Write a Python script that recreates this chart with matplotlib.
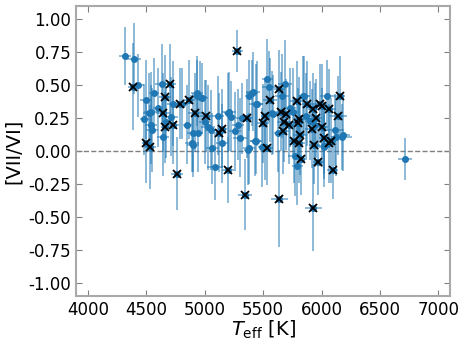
import matplotlib
matplotlib.use("Agg")
import matplotlib.pyplot as plt
import numpy as np

# stars without flag (blue points only)
teff = [4320, 4397, 4431, 4483, 4500, 4543, 4543, 4568, 4551, 4637,
        4646, 4671, 4714, 4731, 4808, 4851, 4894, 4903, 4937, 4937,
        4980, 4946, 5031, 5057, 5091, 5117, 5151, 5211, 5228, 5262,
        5288, 5305, 5382, 5408, 5382, 5442, 5442, 5537, 5554, 5520,
        5580, 5691, 5631, 5734, 5777, 5794, 5854, 5871, 5905, 6043,
        6025, 6119, 6128, 6171, 6711, 4903, 5374, 6017, 4526, 4963,
        5065, 5202, 5322, 5417, 5451, 5434, 5494, 5588, 5665, 5845,
        6180, 5760, 5940, 4600, 5000]
teff_err = [50, 60, 50, 40, 50, 60, 50, 40, 50, 60,
            50, 40, 60, 50, 50, 40, 60, 50, 50, 60,
            50, 40, 60, 50, 70, 50, 50, 60, 40, 50,
            50, 60, 50, 50, 40, 60, 50, 50, 60, 50,
            50, 60, 40, 50, 60, 50, 50, 60, 50, 60,
            50, 70, 50, 90, 60, 50, 40, 50, 50, 60,
            50, 40, 50, 60, 50, 50, 40, 50, 60, 50,
            60, 50, 50, 40, 50]
ratio = [0.72, 0.70, 0.50, 0.24, 0.39, 0.30, 0.20, 0.44, 0.16, 0.51,
         0.11, 0.22, 0.26, 0.36, 0.36, 0.20, 0.06, 0.14, 0.44, 0.42,
         0.40, 0.14, 0.18, 0.16, -0.12, 0.27, 0.06, 0.30, 0.26, 0.15,
         0.20, 0.10, 0.02, 0.44, 0.42, 0.36, 0.08, 0.55, 0.49, 0.03,
         0.29, 0.51, 0.14, 0.33, -0.04, -0.11, 0.42, 0.27, 0.23, 0.42,
         0.03, 0.16, 0.11, 0.11, -0.06, 0.05, 0.01, 0.04, 0.29, 0.41,
         0.02, 0.29, 0.25, 0.45, 0.36, 0.08, 0.03, 0.28, 0.42, 0.42,
         0.12, 0.30, 0.20, 0.33, 0.22]
ratio_err = [0.22, 0.27, 0.24, 0.27, 0.30, 0.30, 0.30, 0.27, 0.32, 0.30,
             0.30, 0.27, 0.30, 0.32, 0.27, 0.30, 0.22, 0.30, 0.25, 0.30,
             0.27, 0.30, 0.32, 0.30, 0.25, 0.30, 0.30, 0.30, 0.27, 0.30,
             0.27, 0.30, 0.27, 0.25, 0.27, 0.30, 0.25, 0.30, 0.27, 0.25,
             0.32, 0.33, 0.30, 0.30, 0.30, 0.30, 0.30, 0.32, 0.30, 0.27,
             0.30, 0.27, 0.30, 0.25, 0.16, 0.25, 0.27, 0.25, 0.30, 0.27,
             0.27, 0.30, 0.27, 0.30, 0.32, 0.27, 0.30, 0.30, 0.32, 0.30,
             0.27, 0.33, 0.32, 0.30, 0.32]

# flagged stars (black crosses)
teff_x = [4390, 4500, 4534, 4646, 4663, 4663, 4706, 4731, 4791, 4766,
          4868, 4920, 5014, 5125, 5151, 5202, 5280, 5348, 5365, 5502,
          5520, 5537, 5562, 5640, 5640, 5657, 5674, 5682, 5700, 5725,
          5768, 5794, 5802, 5811, 5819, 5811, 5828, 5879, 5922, 5931,
          5939, 5931, 5956, 5974, 5991, 6008, 6008, 6025, 6060, 6077,
          6068, 6094, 6145, 6154]
teff_x_err = [50, 40, 50, 60, 50, 40, 50, 50, 60, 50,
              50, 60, 50, 50, 40, 50, 50, 60, 50, 50,
              40, 50, 60, 50, 70, 50, 50, 60, 50, 40,
              50, 60, 50, 50, 60, 50, 50, 50, 60, 50,
              50, 70, 50, 50, 60, 50, 50, 50, 60, 50,
              50, 50, 70, 50]
ratio_x = [0.49, 0.06, 0.03, 0.29, 0.41, 0.18, 0.51, 0.20, 0.36, -0.17,
           0.39, 0.29, 0.27, 0.14, 0.17, -0.14, 0.76, -0.33, 0.25, 0.21,
           0.27, 0.02, 0.39, 0.47, -0.36, 0.30, 0.15, 0.22, 0.28, 0.20,
           0.08, 0.38, 0.21, 0.24, 0.12, 0.06, -0.06, 0.36, 0.17, 0.32,
           0.05, -0.43, 0.25, -0.08, 0.36, 0.34, 0.18, 0.10, 0.32, 0.08,
           0.06, -0.14, 0.27, 0.42]
ratio_x_err = [0.33, 0.30, 0.32, 0.30, 0.32, 0.27, 0.30, 0.30, 0.27, 0.28,
               0.30, 0.30, 0.27, 0.30, 0.30, 0.25, 0.16, 0.27, 0.30, 0.30,
               0.27, 0.28, 0.32, 0.30, 0.37, 0.30, 0.32, 0.30, 0.27, 0.30,
               0.32, 0.30, 0.27, 0.32, 0.30, 0.30, 0.27, 0.32, 0.30, 0.27,
               0.30, 0.33, 0.30, 0.25, 0.30, 0.32, 0.30, 0.27, 0.30, 0.32,
               0.30, 0.22, 0.30, 0.30]

fig = plt.figure(figsize=(4.64, 3.4), dpi=100)
ax = fig.add_axes([0.164, 0.129, 0.806, 0.853])

ax.axhline(0, color="gray", ls="--", lw=1, zorder=1)

for x, xe, y, ye in [(teff, teff_err, ratio, ratio_err),
                     (teff_x, teff_x_err, ratio_x, ratio_x_err)]:
    ax.errorbar(x, y, xerr=xe, yerr=ye, fmt="none", ecolor="C0",
                elinewidth=1.3, alpha=0.55, zorder=2)
    ax.plot(x, y, "o", color="C0", ms=4, zorder=3)

ax.plot(teff_x, ratio_x, "x", color="k", ms=6, mew=1.3, zorder=4)

ax.set_xlim(3900, 7100)
ax.set_ylim(-1.1, 1.1)
ax.set_xticks([4000, 4500, 5000, 5500, 6000, 6500, 7000])
ax.set_yticks([-1.0, -0.75, -0.5, -0.25, 0.0, 0.25, 0.5, 0.75, 1.0])
ax.yaxis.set_major_formatter(matplotlib.ticker.FormatStrFormatter("%.2f"))
ax.tick_params(direction="in", top=True, right=True, labelsize=12,
               color="gray", length=4)
for s in ax.spines.values():
    s.set_color("darkgray")
    s.set_linewidth(1.5)

ax.set_xlabel(r"$T_{\rm eff}$ [K]", fontsize=14, labelpad=0)
ax.set_ylabel("[VII/VI]", fontsize=14)

fig.savefig("out.png", dpi=100)
